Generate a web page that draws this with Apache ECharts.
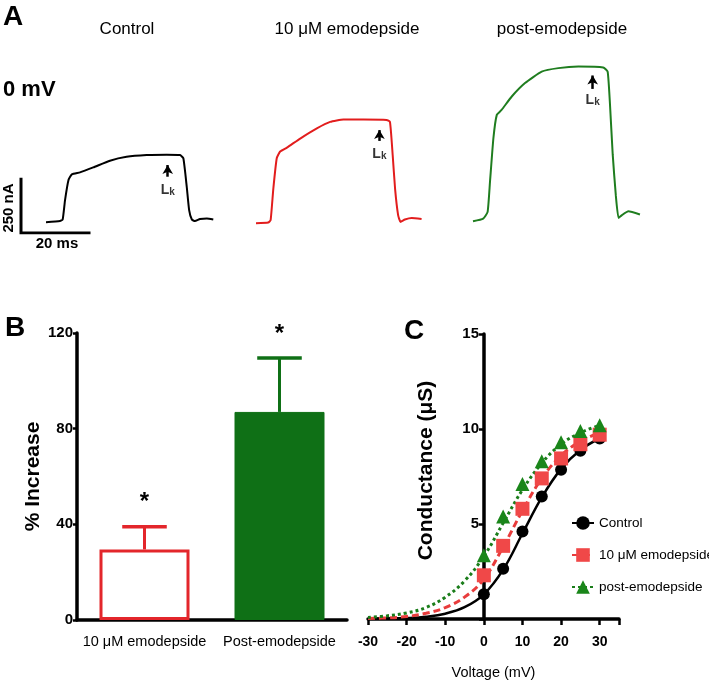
<!DOCTYPE html>
<html><head><meta charset="utf-8">
<script src="https://cdn.jsdelivr.net/npm/echarts@6/dist/echarts.min.js"></script>
<style>html,body{margin:0;padding:0;background:#fff}#c{width:709px;height:689px}</style>
</head><body><div id="c"></div>
<script>
// ---------- Panel A: current traces at 0 mV  [time (ms), current (nA)] ----------
const controlTrace = [[0,0],[4.1,5],[4.9,12],[5.6,102],[6.6,194],[7.6,221],[10,230],[13.9,253],[18.8,284],[23.7,302],[29.6,310],[35.5,312],[39.4,310],[40.4,295],[41.4,163],[42.1,56],[42.9,12],[43.8,5],[45.3,15],[47.3,17],[49.2,12]];
const emoTrace = [[0,0],[3.6,3],[4.3,14],[5.1,160],[6.1,300],[7.1,331],[9.1,349],[13,391],[17.9,438],[21.8,468],[25.7,479],[31.6,479],[38.4,477],[39.4,468],[40.2,315],[40.9,160],[41.8,37],[42.5,6],[43.8,17],[45.8,24],[48.7,19]];
const postTrace = [[0,0],[3.0,12],[4.3,43],[5.0,182],[6.0,383],[7.0,491],[8.4,514],[11.4,576],[15.3,638],[20.2,691],[25.1,707],[31,714],[38.3,710],[39.6,691],[40.3,537],[41.1,306],[42.0,120],[42.8,15],[43.8,28],[45.7,46],[49.1,31]];
const traceTitles = ['Control', '10 μM emodepside', 'post-emodepside'];
// Lk arrow: [time, arrow base, arrow tip, label current]
const lkMarks = [[35.8,210,264,148],[36.3,380,430,319],[35.2,611,673,560]];
const scaleBar = [[0,250],[0,0],[20,0]];   // 250 nA / 20 ms

// ---------- Panel B ----------
const barCategories = ['10 μM emodepside', 'Post-emodepside'];
const barMeans = [29.5, 87];
const barErrors = [9.5, 22.5];

// ---------- Panel C ----------
const fitVoltages = [-30,-25,-20,-15,-10,-5,0,5,10,15,20,25,30];
const fitControl = [0.01,0.02,0.05,0.12,0.28,0.62,1.3,2.6,4.5,6.4,7.9,8.9,9.5];
const fitEmo = [0.03,0.06,0.13,0.3,0.6,1.15,2.1,3.8,5.7,7.4,8.6,9.35,9.8];
const fitPost = [0.08,0.17,0.32,0.6,1.15,2.0,3.3,5.05,6.8,8.2,9.2,9.8,10.2];
const markerVoltages = [0,5,10,15,20,25,30];
const gControl = [1.3,2.65,4.6,6.45,7.85,8.85,9.5];
const gEmo = [2.3,3.85,5.8,7.4,8.45,9.2,9.7];
const gPost = [3.35,5.4,7.1,8.3,9.3,9.9,10.2];
const seriesNamesC = ['Control', '10 μM emodepside', 'post-emodepside'];

const SANS = "'Liberation Sans',Arial,sans-serif";
const RED = '#e3262b', GREEN = '#0f7016', REDC = '#f04848', GREENC = '#1a861a';
const traceColors = ['#000000', '#e21d1d', '#1f7d1f'];
const traces = [controlTrace, emoTrace, postTrace];
const gridLefts = [46, 256, 473];
const gridTops = [49, 50, 48];

const pair = (xs, ys) => xs.map((x, i) => [x, ys[i]]);

const grids = [], xAxes = [], yAxes = [], series = [];
traces.forEach((tr, k) => {
  grids.push({left: gridLefts[k], top: gridTops[k], width: 170, height: 184});
  xAxes.push({gridIndex: k, type: 'value', min: 0, max: 50, show: false});
  yAxes.push({gridIndex: k, type: 'value', min: -50, max: 800, show: false});
  const m = lkMarks[k];
  series.push({
    type: 'line', xAxisIndex: k, yAxisIndex: k, data: tr, symbol: 'none', silent: true, smooth: 0.15,
    lineStyle: {color: traceColors[k], width: 2}, itemStyle: {color: traceColors[k]},
    markLine: {
      silent: true, symbol: ['none', 'arrow'], symbolSize: [8, 9],
      lineStyle: {color: '#000', width: 2.5, type: 'solid'}, label: {show: false},
      data: [[{coord: [m[0], m[1]]}, {coord: [m[0], m[2]]}]]
    }
  });
  series.push({
    type: 'scatter', xAxisIndex: k, yAxisIndex: k, symbolSize: 0, silent: true,
    data: [[m[0], m[3]]],
    label: {show: true, position: 'inside', formatter: '{a|L}{b|k}',
      rich: {a: {fontFamily: SANS, fontWeight: 'bold', fontSize: 14, color: '#000', verticalAlign: 'bottom', lineHeight: 15},
             b: {fontFamily: SANS, fontWeight: 'bold', fontSize: 10, color: '#000', verticalAlign: 'bottom', lineHeight: 13}}}
  });
});
// scale bar grid (3)
grids.push({left: 21, top: 179, width: 68, height: 54});
xAxes.push({gridIndex: 3, type: 'value', min: 0, max: 20, show: false});
yAxes.push({gridIndex: 3, type: 'value', min: 0, max: 250, show: false});
series.push({type: 'line', xAxisIndex: 3, yAxisIndex: 3, data: scaleBar, symbol: 'none', silent: true,
  lineStyle: {color: '#000', width: 3, cap: 'square', join: 'miter'}});

// Panel B grid (4)
grids.push({left: 77, top: 333, width: 270, height: 287});
xAxes.push({gridIndex: 4, type: 'category', data: barCategories, boundaryGap: true,
  axisLine: {lineStyle: {color: '#000', width: 3.5}},
  axisTick: {alignWithLabel: true, length: 7, lineStyle: {width: 3, color: '#000'}},
  axisLabel: {color: '#000', fontFamily: SANS, fontSize: 14.5, margin: 14, interval: 0}});
yAxes.push({gridIndex: 4, type: 'value', min: 0, max: 120, interval: 40,
  name: '% Increase', nameLocation: 'middle', nameGap: 33, nameRotate: 90,
  nameTextStyle: {fontFamily: SANS, fontWeight: 'bold', fontSize: 21, color: '#000'},
  axisLine: {show: true, lineStyle: {color: '#000', width: 3.5}},
  axisTick: {show: true, length: 4, lineStyle: {width: 2.5, color: '#000'}},
  axisLabel: {color: '#000', fontFamily: SANS, fontSize: 15, fontWeight: 'bold', margin: 4},
  splitLine: {show: false}});
series.push({type: 'bar', xAxisIndex: 4, yAxisIndex: 4, barWidth: 90, silent: true,
  data: barMeans.map((v, i) => ({value: v, itemStyle: i === 0
    ? {color: '#ffffff', borderColor: RED, borderWidth: 3}
    : {color: GREEN, borderColor: GREEN, borderWidth: 1}}))});
const barColors = [RED, GREEN];
series.push({type: 'custom', xAxisIndex: 4, yAxisIndex: 4, silent: true, z: 5,
  data: barMeans.map((v, i) => [i, v, barErrors[i]]),
  renderItem: (params, api) => {
    const i = api.value(0), m = api.value(1), e = api.value(2);
    const p0 = api.coord([i, m]), p1 = api.coord([i, m + e]);
    const half = api.size([1, 0])[0] * 0.165;
    const col = barColors[params.dataIndex];
    return {type: 'group', children: [
      {type: 'line', shape: {x1: p0[0], y1: p0[1], x2: p1[0], y2: p1[1]}, style: {stroke: col, lineWidth: 3}},
      {type: 'line', shape: {x1: p1[0] - half, y1: p1[1], x2: p1[0] + half, y2: p1[1]}, style: {stroke: col, lineWidth: 3.5}},
      {type: 'text', x: p1[0], y: p1[1] - 24, style: {text: '*', font: 'bold 24px ' + SANS, fill: '#000', align: 'center', verticalAlign: 'middle'}}
    ]};
  }});

// Panel C grid (5) – data grid with x axis
grids.push({left: 368, top: 334, width: 251, height: 285});
xAxes.push({gridIndex: 5, type: 'value', min: -30, max: 35, interval: 10,
  name: 'Voltage (mV)', nameLocation: 'middle', nameGap: 46,
  nameTextStyle: {fontFamily: SANS, fontSize: 14.5, color: '#000'},
  axisLine: {lineStyle: {color: '#000', width: 3.5}},
  axisTick: {length: 6, lineStyle: {width: 2.5, color: '#000'}},
  axisLabel: {color: '#000', fontFamily: SANS, fontSize: 14, fontWeight: 'bold', margin: 16,
    formatter: v => v > 30 ? '' : String(v)},
  splitLine: {show: false}});
yAxes.push({gridIndex: 5, type: 'value', min: 0, max: 15, interval: 5, show: false});
// Panel C grid (6) – y axis drawn at V = 0
grids.push({left: 484, top: 334, width: 135, height: 285});
xAxes.push({gridIndex: 6, type: 'value', min: 0, max: 35, show: false});
yAxes.push({gridIndex: 6, type: 'value', min: 0, max: 15, interval: 5,
  name: 'Conductance (μS)', nameLocation: 'middle', nameGap: 47, nameRotate: 90,
  nameTextStyle: {fontFamily: SANS, fontWeight: 'bold', fontSize: 21, color: '#000', padding: [0, 0, 0, 12]},
  axisLine: {show: true, lineStyle: {color: '#000', width: 3.5}},
  axisTick: {show: true, length: 5, lineStyle: {width: 2.5, color: '#000'}},
  axisLabel: {color: '#000', fontFamily: SANS, fontSize: 15, fontWeight: 'bold', margin: 5,
    formatter: v => v === 0 ? '' : String(v)},
  splitLine: {show: false}});

const fitSets = [fitControl, fitEmo, fitPost];
const markSets = [gControl, gEmo, gPost];
const cColors = ['#000000', REDC, GREENC];
const lineColors = ['#000000', '#e83c3c', '#1a7d1a'];
const symbols = ['circle', 'rect', 'triangle'];
const lineTypes = ['solid', [7, 4], [3, 3]];
const symSizes = [12, 14, 14];
fitSets.forEach((f, k) => {
  series.push({name: seriesNamesC[k], type: 'line', xAxisIndex: 5, yAxisIndex: 5, smooth: 0.4,
    data: pair(fitVoltages, f), symbol: symbols[k], symbolSize: symSizes[k], showSymbol: false, silent: true,
    lineStyle: {color: lineColors[k], width: k === 0 ? 2.5 : 3, type: lineTypes[k]},
    itemStyle: {color: cColors[k]}, z: 2 + k});
});
markSets.forEach((mk, k) => {
  series.push({name: 'pts' + k, type: 'scatter', xAxisIndex: 5, yAxisIndex: 5,
    data: pair(markerVoltages, mk), symbol: symbols[k], symbolSize: symSizes[k], silent: true,
    itemStyle: {color: cColors[k], opacity: 1}, z: 6 + k});
});

const chart = echarts.init(document.getElementById('c'), null, {renderer: 'canvas'});
chart.setOption({
  animation: false,
  backgroundColor: '#fff',
  grid: grids, xAxis: xAxes, yAxis: yAxes, series: series,
  legend: {data: seriesNamesC, orient: 'vertical', left: 566, top: 511, itemWidth: 22, itemHeight: 17, itemGap: 18,
    selectedMode: false, textStyle: {fontFamily: SANS, fontSize: 13.5, color: '#000'}},
  graphic: [
    {type: 'text', x: 3, y: 17, style: {text: 'A', font: 'bold 28px ' + SANS, fill: '#000', verticalAlign: 'middle'}},
    {type: 'text', x: 3, y: 90, style: {text: '0 mV', font: 'bold 22px ' + SANS, fill: '#000', verticalAlign: 'middle'}},
    {type: 'text', x: 5, y: 328, style: {text: 'B', font: 'bold 28px ' + SANS, fill: '#000', verticalAlign: 'middle'}},
    {type: 'text', x: 404, y: 331, style: {text: 'C', font: 'bold 28px ' + SANS, fill: '#000', verticalAlign: 'middle'}},
    {type: 'text', x: 127, y: 29, style: {text: traceTitles[0], font: '17px ' + SANS, fill: '#000', align: 'center', verticalAlign: 'middle'}},
    {type: 'text', x: 347, y: 29, style: {text: traceTitles[1], font: '17px ' + SANS, fill: '#000', align: 'center', verticalAlign: 'middle'}},
    {type: 'text', x: 562, y: 29, style: {text: traceTitles[2], font: '17px ' + SANS, fill: '#000', align: 'center', verticalAlign: 'middle'}},
    {type: 'text', x: 9, y: 208, rotation: Math.PI / 2, style: {text: '250 nA', font: 'bold 15px ' + SANS, fill: '#000', align: 'center', verticalAlign: 'middle'}},
    {type: 'text', x: 57, y: 244, style: {text: '20 ms', font: 'bold 15px ' + SANS, fill: '#000', align: 'center', verticalAlign: 'middle'}}
  ]
});
</script></body></html>
